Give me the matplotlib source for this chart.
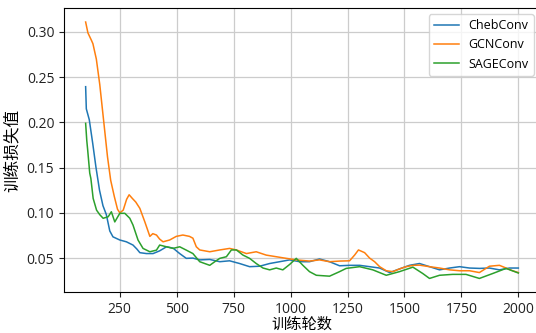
import matplotlib
matplotlib.use("Agg")
import matplotlib.pyplot as plt

plt.rcParams['font.family'] = ['Open Sans', 'Noto Sans CJK SC', 'DejaVu Sans']
plt.rcParams['axes.unicode_minus'] = False

# Smoothed training loss per model
cheb_epochs = [100, 103, 116, 131, 145, 161, 176, 191, 206, 220, 250, 279, 308, 325, 338,
               367, 396, 425, 455, 484, 513, 542, 571, 601, 645, 689, 732, 776, 820, 864,
               908, 952, 996, 1040, 1083, 1127, 1171, 1215, 1259, 1303, 1347, 1391, 1435,
               1478, 1522, 1566, 1610, 1654, 1698, 1742, 1786, 1830, 1873, 1917, 1961, 2000]
cheb_loss = [0.2395, 0.215, 0.203, 0.177, 0.151, 0.125, 0.108, 0.098, 0.080, 0.0735, 0.070,
             0.068, 0.0644, 0.060, 0.056, 0.055, 0.055, 0.058, 0.0625, 0.061, 0.055, 0.0497,
             0.050, 0.048, 0.0485, 0.046, 0.047, 0.044, 0.0405, 0.041, 0.044, 0.046, 0.048,
             0.046, 0.046, 0.049, 0.046, 0.0415, 0.042, 0.042, 0.0405, 0.039, 0.034, 0.038,
             0.042, 0.044, 0.0405, 0.037, 0.039, 0.0405, 0.039, 0.0386, 0.039, 0.037, 0.039,
             0.039]

gcn_epochs = [100, 110, 125, 132, 147, 162, 182, 196, 210, 226, 240, 250, 265, 280, 291,
              305, 320, 338, 360, 382, 395, 411, 425, 440, 469, 498, 527, 556, 571, 586,
              601, 645, 689, 732, 762, 806, 849, 893, 937, 981, 1025, 1083, 1127, 1171,
              1215, 1259, 1281, 1298, 1325, 1347, 1369, 1391, 1420, 1449, 1478, 1507, 1540,
              1566, 1610, 1654, 1698, 1742, 1786, 1829, 1873, 1917, 1946, 1975, 2000]
gcn_loss = [0.311, 0.299, 0.291, 0.287, 0.270, 0.242, 0.195, 0.162, 0.136, 0.118, 0.104,
            0.100, 0.103, 0.115, 0.120, 0.116, 0.112, 0.105, 0.090, 0.074, 0.077, 0.0755,
            0.071, 0.068, 0.070, 0.074, 0.0755, 0.074, 0.072, 0.0625, 0.059, 0.057, 0.059,
            0.0607, 0.059, 0.055, 0.057, 0.0533, 0.0515, 0.0497, 0.048, 0.0467, 0.048,
            0.046, 0.0467, 0.047, 0.0533, 0.059, 0.056, 0.050, 0.046, 0.0405, 0.036, 0.035,
            0.038, 0.0405, 0.042, 0.0422, 0.0405, 0.039, 0.037, 0.036, 0.036, 0.034, 0.041,
            0.042, 0.039, 0.036, 0.034]

sage_epochs = [100, 105, 109, 118, 123, 133, 148, 162, 177, 199, 213, 228, 250, 272, 294,
               308, 330, 352, 382, 411, 425, 455, 484, 513, 542, 571, 601, 645, 667, 689,
               718, 740, 762, 791, 820, 849, 879, 908, 937, 966, 996, 1025, 1054, 1083,
               1113, 1171, 1215, 1244, 1303, 1361, 1420, 1478, 1537, 1580, 1610, 1654, 1712,
               1770, 1829, 1888, 1946, 2000]
sage_loss = [0.199, 0.180, 0.1695, 0.144, 0.138, 0.116, 0.103, 0.098, 0.094, 0.0957, 0.1012,
             0.090, 0.0995, 0.0995, 0.094, 0.0865, 0.070, 0.0607, 0.057, 0.0588, 0.0644,
             0.0625, 0.0607, 0.0625, 0.0588, 0.055, 0.046, 0.042, 0.046, 0.0497, 0.0515,
             0.059, 0.059, 0.0533, 0.0497, 0.044, 0.039, 0.037, 0.039, 0.037, 0.043, 0.0497,
             0.042, 0.035, 0.031, 0.030, 0.035, 0.0386, 0.0405, 0.037, 0.031, 0.035, 0.040,
             0.033, 0.0275, 0.031, 0.032, 0.032, 0.0275, 0.033, 0.0386, 0.0335]

labels = ["ChebConv", "GCNConv", "SAGEConv"]

fig = plt.figure(figsize=(5.36, 3.33), dpi=100)
ax = fig.add_axes([0.1194, 0.1231, 0.888, 0.8529])

ax.plot(cheb_epochs, cheb_loss, color="#1f77b4", lw=1.1, label=labels[0])
ax.plot(gcn_epochs, gcn_loss, color="#ff7f0e", lw=1.1, label=labels[1])
ax.plot(sage_epochs, sage_loss, color="#2ca02c", lw=1.1, label=labels[2])

ax.set_xlim(5, 2095)
ax.set_ylim(0.0125, 0.3265)
ax.set_xticks([250, 500, 750, 1000, 1250, 1500, 1750, 2000])
ax.set_yticks([0.05, 0.10, 0.15, 0.20, 0.25, 0.30])
ax.tick_params(labelsize=10, colors="#222222")
ax.grid(True, color="#cccccc", lw=0.9)
ax.set_xlabel("训练轮数", fontsize=11, labelpad=1)
ax.set_ylabel("训练损失值", fontsize=12, labelpad=4)
ax.legend(loc="upper right", fontsize=9)

fig.savefig("out.png", dpi=100)
